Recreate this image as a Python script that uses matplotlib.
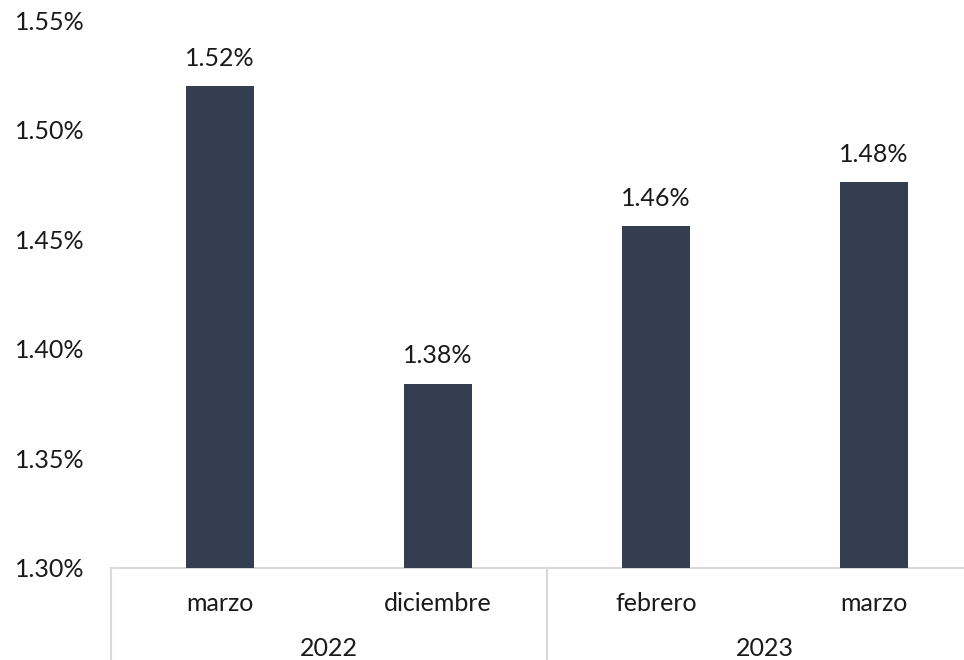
import matplotlib
matplotlib.use("Agg")
import matplotlib.pyplot as plt
from matplotlib.transforms import blended_transform_factory

# Data
months = ["marzo", "diciembre", "febrero", "marzo"]
years = ["2022", "2023"]
months_per_year = [2, 2]
values = [1.520, 1.384, 1.456, 1.476]
y_ticks = [1.30, 1.35, 1.40, 1.45, 1.50, 1.55]

plt.rcParams["font.family"] = ["Lato", "DejaVu Sans"]

fig = plt.figure(figsize=(9.64, 6.6), dpi=100)
ax = fig.add_axes([111 / 964, 92.5 / 660, 872 / 964, 547 / 660])

bar_color = "#333f50"
grid_color = "#d9d9d9"
text_color = "#1a1a1a"
fs = 18

x = list(range(len(values)))
ax.bar(x, [v - y_ticks[0] for v in values], bottom=y_ticks[0],
       width=0.31, color=bar_color, zorder=3)

for xi, v in zip(x, values):
    ax.annotate(f"{v:.2f}%", xy=(xi, v), xytext=(0, 20), textcoords="offset points",
                ha="center", va="center", fontsize=fs, color=text_color)

ax.set_xlim(-0.5, len(values) - 0.5)
ax.set_ylim(y_ticks[0], y_ticks[-1])
ax.set_yticks(y_ticks)
ax.set_yticklabels([f"{t:.2f}%" for t in y_ticks], fontsize=fs, color=text_color)
ax.tick_params(axis="y", length=0, pad=19)
ax.set_xticks([])

for side in ["left", "right", "top"]:
    ax.spines[side].set_visible(False)
ax.spines["bottom"].set_color(grid_color)
ax.spines["bottom"].set_linewidth(1.5)

trans = blended_transform_factory(ax.transData, ax.transAxes)

# Month labels
for xi, m in zip(x, months):
    ax.annotate(m, xy=(xi, 0), xycoords=trans, xytext=(0, -26), textcoords="offset points",
                ha="center", va="center", fontsize=fs, color=text_color)

# Year labels and group separators
start = 0
bounds = [-0.5]
for yr, n in zip(years, months_per_year):
    center = start + (n - 1) / 2
    ax.annotate(yr, xy=(center, 0), xycoords=trans, xytext=(0, -58), textcoords="offset points",
                ha="center", va="center", fontsize=fs, color=text_color)
    start += n
    bounds.append(start - 0.5)

for b in bounds:
    ax.plot([b, b], [0, -0.3], transform=trans, color=grid_color, lw=1.5, clip_on=False)

fig.savefig("out.png", dpi=100, facecolor="white")
